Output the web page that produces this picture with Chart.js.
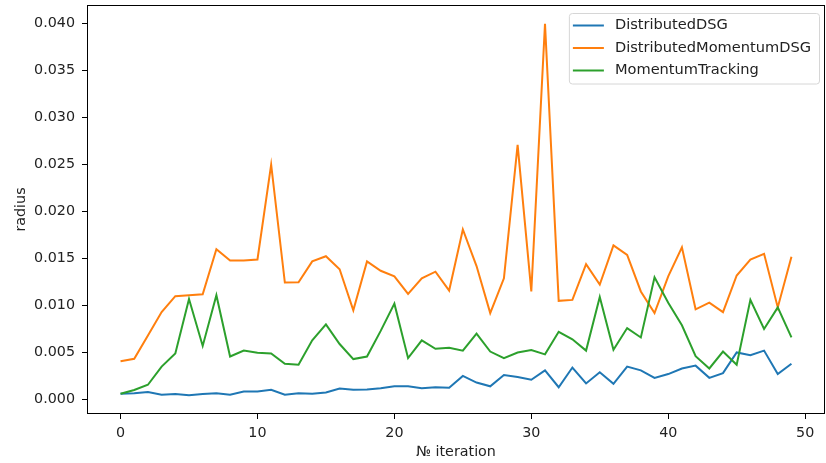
<!DOCTYPE html>
<html>
<head>
<meta charset="utf-8">
<script src="https://cdn.jsdelivr.net/npm/chart.js@4/dist/chart.umd.min.js"></script>
<style>
html,body{margin:0;padding:0;background:#fff}
#wrap{width:826px;height:463px;position:relative}
</style>
</head>
<body>
<div id="wrap"><canvas id="c" width="826" height="463"></canvas></div>
<script>
// radius per iteration for each method
const iterations = [0,1,2,3,4,5,6,7,8,9,10,11,12,13,14,15,16,17,18,19,20,21,22,23,24,25,26,27,28,29,30,31,32,33,34,35,36,37,38,39,40,41,42,43,44,45,46,47,48,49];
const seriesNames = ["DistributedDSG","DistributedMomentumDSG","MomentumTracking"];
const distributedDSG = [0.0006,0.00067,0.00078,0.0005,0.00058,0.00046,0.00057,0.00067,0.0005,0.00085,
  0.00085,0.00103,0.0005,0.00067,0.0006,0.00075,0.00117,0.00103,0.00106,0.0012,
  0.0014,0.0014,0.0012,0.0013,0.00124,0.0025,0.0018,0.0014,0.0026,0.0024,
  0.0021,0.0031,0.0013,0.0034,0.0017,0.0029,0.00167,0.0035,0.0031,0.0023,
  0.0027,0.0033,0.0036,0.0023,0.0028,0.0050,0.0047,0.0052,0.0027,0.0038];
const distributedMomentumDSG = [0.00407,0.00433,0.0068,0.0093,0.0110,0.0111,0.0112,0.0160,0.0148,0.0148,
  0.0149,0.0250,0.01245,0.01248,0.0147,0.01525,0.01386,0.0095,0.0147,0.0137,
  0.0131,0.01124,0.0129,0.0136,0.0116,0.0181,0.0142,0.0092,0.0129,0.0271,
  0.0115,0.0400,0.0105,0.0106,0.0144,0.01223,0.0164,0.0154,0.0115,0.0092,
  0.0131,0.0162,0.0096,0.0103,0.0093,0.0132,0.0149,0.0155,0.0098,0.0152];
const momentumTracking = [0.0006,0.001,0.00156,0.0035,0.0049,0.0107,0.0057,0.0111,0.00457,0.0052,
  0.00497,0.0049,0.0038,0.0037,0.0063,0.0080,0.0059,0.0043,0.00457,0.0073,
  0.0102,0.0044,0.0063,0.0054,0.0055,0.0052,0.0070,0.0051,0.0044,0.0050,
  0.00525,0.0048,0.0072,0.0064,0.0052,0.0109,0.0053,0.0076,0.0066,0.0130,
  0.0103,0.0079,0.0046,0.0033,0.0051,0.0037,0.0106,0.0075,0.0098,0.0066];
const xTicks = [0,10,20,30,40,50];
const yTicks = [0,0.005,0.010,0.015,0.020,0.025,0.030,0.035,0.040];

const COLORS = ["#1f77b4","#ff7f0e","#2ca02c"];
const FONT = {family:"'DejaVu Sans'", size:14.3};
const LEGEND_FONT = {family:"'DejaVu Sans'", size:14.6};
const INK = "#222";

const pts = arr => arr.map((v,i)=>({x:iterations[i], y:v}));
const datasets = [distributedDSG, distributedMomentumDSG, momentumTracking].map((arr,i)=>({
  label:seriesNames[i], data:pts(arr), borderColor:COLORS[i], backgroundColor:COLORS[i],
  borderWidth:2, pointRadius:0, tension:0, order:2-i   // later series on top
}));

// axes frame on all four sides
const frame = {
  id:'frame',
  afterDatasetsDraw(chart){
    const {ctx, chartArea:a} = chart;
    ctx.save(); ctx.strokeStyle='#000'; ctx.lineWidth=1;
    ctx.strokeRect(Math.round(a.left)+0.5, Math.round(a.top)+0.5, Math.round(a.right-a.left)-1, Math.round(a.bottom-a.top)-1);
    ctx.restore();
  }
};

// boxed legend, upper right inside the plot
const boxLegend = {
  id:'boxLegend',
  afterDraw(chart){
    const {ctx, chartArea:a} = chart;
    ctx.save();
    ctx.font = `${LEGEND_FONT.size}px ${LEGEND_FONT.family}`;
    const tw = Math.max(...seriesNames.map(n=>ctx.measureText(n).width));
    const pad=4, handle=31, gap=11, rowH=22.5;
    const w = pad+handle+gap+tw+8, h = rowH*seriesNames.length+3;
    const x = a.right-6-w, y = a.top+8;
    ctx.beginPath(); ctx.roundRect(x+0.5, y+0.5, w, h, 3);
    ctx.fillStyle='rgba(255,255,255,0.8)'; ctx.fill();
    ctx.strokeStyle='#d6d6d6'; ctx.lineWidth=1; ctx.stroke();
    seriesNames.forEach((n,i)=>{
      const cy = y+12.5+i*rowH;
      ctx.strokeStyle=COLORS[i]; ctx.lineWidth=2;
      ctx.beginPath(); ctx.moveTo(x+pad, cy); ctx.lineTo(x+pad+handle, cy); ctx.stroke();
      ctx.fillStyle=INK; ctx.textBaseline='middle'; ctx.textAlign='left';
      ctx.fillText(n, x+pad+handle+gap, cy);
    });
    ctx.restore();
  }
};

new Chart(document.getElementById('c'), {
  type:'line',
  data:{datasets},
  plugins:[frame, boxLegend],
  options:{
    responsive:false, animation:false, devicePixelRatio:1,
    layout:{padding:{top:5, right:1, left:0, bottom:0}},
    plugins:{legend:{display:false}, tooltip:{enabled:false}},
    scales:{
      x:{
        type:'linear', min:-2.45, max:51.45,
        afterBuildTicks:s=>{ s.ticks = xTicks.map(v=>({value:v})); },
        afterFit:s=>{ s.height = 49; s.paddingLeft = 0; s.paddingRight = 0; },
        grid:{drawOnChartArea:false, drawTicks:true, tickLength:5, tickColor:'#000'},
        border:{display:false},
        ticks:{color:INK, font:FONT, padding:6, maxRotation:0, callback:v=>v},
        title:{display:true, text:'№ iteration', color:INK, font:FONT, padding:{top:0, bottom:2}}
      },
      y:{
        min:-0.00155, max:0.0420,
        afterBuildTicks:s=>{ s.ticks = yTicks.map(v=>({value:v})); },
        afterFit:s=>{ s.width = 87; s.paddingTop = 0; s.paddingBottom = 0; },
        grid:{drawOnChartArea:false, drawTicks:true, tickLength:5, tickColor:'#000'},
        border:{display:false},
        ticks:{color:INK, font:FONT, padding:7, callback:v=>v.toFixed(3)},
        title:{display:true, text:'radius', color:INK, font:FONT, padding:{top:13, bottom:0}}
      }
    }
  }
});
</script>
</body>
</html>
